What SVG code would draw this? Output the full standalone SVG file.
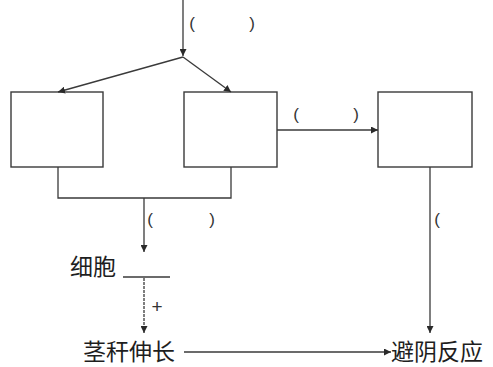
<svg xmlns="http://www.w3.org/2000/svg" width="493" height="367" viewBox="0 0 493 367">
<style>
.box{fill:#fff;stroke:#3a3a3a;stroke-width:1.4}
.ln{fill:none;stroke:#3a3a3a;stroke-width:1.3}
.p{font-family:"Liberation Sans",Arial,sans-serif;font-size:17px;fill:#333;text-anchor:middle}
.t{font-family:"Noto Sans CJK SC","Noto Sans CJK TC",sans-serif;font-size:23px;fill:#1e1e1e}
</style>
<defs>
<marker id="ah" viewBox="0 0 10 10" refX="10" refY="5" markerWidth="7" markerHeight="7" markerUnits="userSpaceOnUse" orient="auto">
<path d="M0,0 L10,5 L0,10 z" fill="#2a2a2a"/>
</marker>
</defs>
<rect width="493" height="367" fill="#fff"/>
<g id="box-left"><rect class="box" x="11" y="92" width="92" height="75"/></g>
<g id="box-middle"><rect class="box" x="184" y="92" width="93" height="75"/></g>
<g id="box-right"><rect class="box" x="378" y="92" width="94" height="75"/></g>
<g id="node-cell"><text class="t" x="70" y="275">细胞</text><path class="ln" d="M123,277 H170"/></g>
<g id="node-stem"><text class="t" x="83" y="360">茎秆伸长</text></g>
<g id="node-shade"><text class="t" x="391" y="360">避阴反应</text></g>
<g id="connectors">
<path class="ln" d="M183,0 V56" marker-end="url(#ah)"/>
<path class="ln" d="M183,57 L58,92" marker-end="url(#ah)"/>
<path class="ln" d="M183,57 L231,92" marker-end="url(#ah)"/>
<path class="ln" d="M277,130 H378" marker-end="url(#ah)"/>
<path class="ln" d="M58,167 V198 H231 V167"/>
<path class="ln" d="M144,198 V252" marker-end="url(#ah)"/>
<path class="ln" d="M144,278 V333" stroke-dasharray="3,1" marker-end="url(#ah)"/>
<path class="ln" d="M430,167 V333" marker-end="url(#ah)"/>
<path class="ln" d="M184,352 H391" marker-end="url(#ah)"/>
<text class="p" x="192" y="29">(</text>
<text class="p" x="252" y="29">)</text>
<text class="p" x="296" y="120">(</text>
<text class="p" x="356" y="120">)</text>
<text class="p" x="150" y="225">(</text>
<text class="p" x="212" y="225">)</text>
<text class="p" x="437" y="225">(</text>
<text class="p" x="157" y="313" style="font-size:19px">+</text>
</g>
</svg>
